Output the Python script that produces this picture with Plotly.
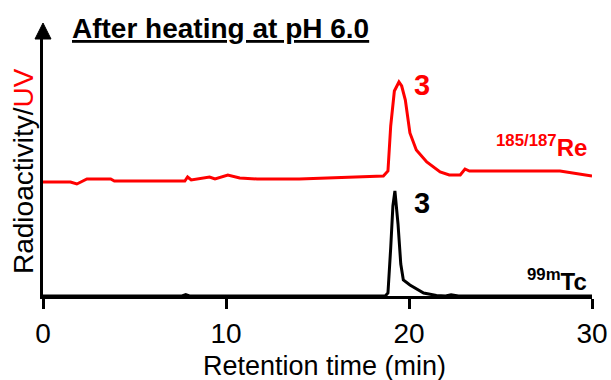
import plotly.graph_objects as go

# Retention time (min) and detector signal (arbitrary units)
uv_time = [0.0, 1.5, 1.85, 2.4, 3.7, 3.9, 7.75, 7.9, 8.1, 9.1, 9.4, 10.1, 10.75, 11.7, 14.0, 15.3,
           17.3, 18.6, 18.85, 19.0, 19.2, 19.45, 19.6, 19.8, 20.05, 20.4, 20.97, 21.7, 22.2, 22.8,
           23.06, 23.3, 25.0, 28.25, 30.0]
uv_signal = [114, 114, 112, 117, 117, 115, 115, 119, 116, 119, 117, 121, 118, 117, 117, 118,
             119, 120, 125, 170, 205, 214, 210, 196, 163, 146, 134, 124, 121, 121,
             127, 125, 125, 125, 120]

rad_time = [0.0, 7.6, 7.8, 8.0, 18.7, 18.85, 19.0, 19.12, 19.23, 19.4, 19.55, 19.69, 20.05,
            20.4, 20.8, 21.5, 22.0, 22.3, 22.7, 23.0, 30.0]
rad_signal = [0, 0, 1.5, 0, 0, 3, 48, 90, 105, 72, 32, 16, 11, 7, 3, 0.5, 0, 1.2, 0, 0, 0]

x_ticks = [0, 10, 20, 30]
RED = "#ff0000"
FONT = "Liberation Sans, Arial, sans-serif"

fig = go.Figure()
fig.add_trace(go.Scatter(x=uv_time, y=uv_signal, mode="lines",
                         line=dict(color=RED, width=3), showlegend=False))
fig.add_trace(go.Scatter(x=rad_time, y=rad_signal, mode="lines",
                         line=dict(color="black", width=3), showlegend=False))

W, H = 611, 380
ml, mr, mt, mb = 43, 19, 39, 84
pw, ph = W - ml - mr, H - mt - mb

fig.update_layout(
    width=W, height=H,
    margin=dict(l=ml, r=mr, t=mt, b=mb, autoexpand=False),
    paper_bgcolor="white", plot_bgcolor="white",
    font=dict(family=FONT, color="black"),
    xaxis=dict(range=[0, 30], tickvals=x_ticks, ticks="outside", ticklen=10, tickwidth=2.5,
               tickcolor="black", showline=True, linewidth=3, linecolor="black",
               showgrid=False, zeroline=False, tickfont=dict(size=28, family=FONT),
               ticklabelstandoff=0, automargin=False),
    yaxis=dict(range=[0, ph], showticklabels=False, ticks="", showline=True, linewidth=3,
               linecolor="black", showgrid=False, zeroline=False, automargin=False),
)

# arrowhead on y axis
fig.add_shape(type="path", xref="paper", yref="paper",
              path=f"M {-8/pw} 1 L {8/pw} 1 L 0 {1+16/ph} Z",
              fillcolor="black", line=dict(color="black", width=1))

def px_x(px):
    return (px - ml) / pw

def px_y(py):
    return (H - mb - py) / ph

ann = []
ann.append(dict(text="<b>After heating at pH 6.0</b>", x=px_x(70), y=px_y(29),
                xanchor="left", yanchor="middle",
                font=dict(size=28, family=FONT, lineposition="under")))
ann.append(dict(text="Radioactivity/<span style='color:#ff0000'>UV</span>", x=px_x(23),
                y=px_y(171), textangle=-90, xanchor="center", yanchor="middle",
                font=dict(size=28, family=FONT)))
ann.append(dict(text="Retention time (min)", x=px_x(324), y=px_y(366),
                xanchor="center", yanchor="middle", font=dict(size=27, family=FONT)))
ann.append(dict(text="<b>3</b>", x=px_x(422), y=px_y(85), xanchor="center", yanchor="middle",
                font=dict(size=29, color=RED, family=FONT)))
ann.append(dict(text="<b>3</b>", x=px_x(422), y=px_y(203), xanchor="center", yanchor="middle",
                font=dict(size=29, color="black", family=FONT)))
ann.append(dict(text="<b><sup>185/187</sup>Re</b>", x=px_x(589), y=px_y(146),
                xanchor="right", yanchor="middle", font=dict(size=24, color=RED, family=FONT)))
ann.append(dict(text="<b><sup>99m</sup>Tc</b>", x=px_x(589), y=px_y(280),
                xanchor="right", yanchor="middle", font=dict(size=24, color="black", family=FONT)))
for a in ann:
    a.update(xref="paper", yref="paper", showarrow=False)
fig.update_layout(annotations=ann)

fig.write_html("out.html")
